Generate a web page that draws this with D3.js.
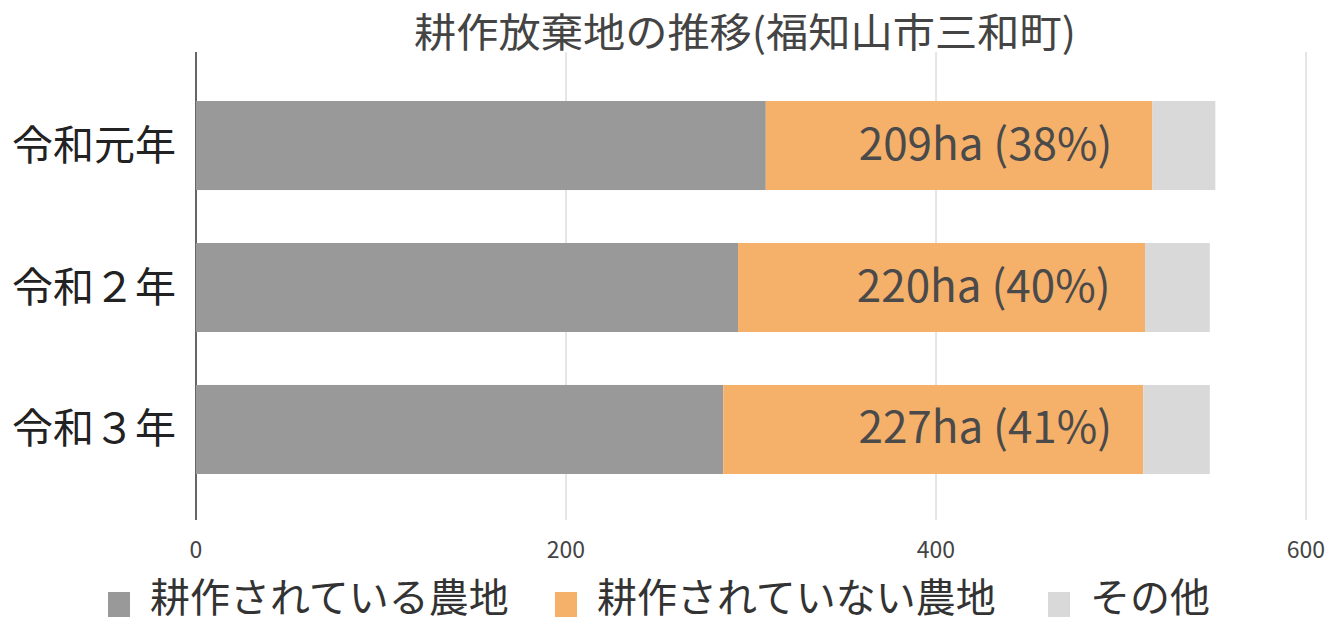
<!DOCTYPE html>
<html lang="ja">
<head>
    <meta charset="UTF-8">
    <script src="https://cdnjs.cloudflare.com/ajax/libs/d3/7.8.5/d3.min.js"></script>
    <style>
        body { margin: 0; background: #fff; }
        text { font-family: "Noto Sans CJK JP", "Noto Sans", sans-serif; }
    </style>
</head>
<body>
<svg id="chart" width="1336" height="624"></svg>
<script>
    const years = ['令和元年', '令和２年', '令和３年'];
    const cultivated = [308, 293, 285];
    const abandoned = [209, 220, 227];
    const other = [34, 35, 36];
    const seriesNames = ['耕作されている農地', '耕作されていない農地', 'その他'];
    const colors = ['#999999', '#f5b06a', '#d9d9d9'];
    const ticks = [0, 200, 400, 600];

    const svg = d3.select('#chart');
    const x = d3.scaleLinear().domain([0, 600]).range([196, 1306]);
    const y = d3.scaleBand().domain(years).range([101, 474]).paddingInner(0.373).paddingOuter(0);

    const rows = years.map((yr, i) => ({year: yr, vals: [cultivated[i], abandoned[i], other[i]]}));

    // grid
    svg.append('g').selectAll('line')
        .data(ticks).enter().append('line')
        .attr('x1', d => x(d)).attr('x2', d => x(d))
        .attr('y1', 52).attr('y2', 520)
        .attr('stroke', d => d === 0 ? '#333' : '#cccccc')
        .attr('stroke-width', d => d === 0 ? 1.5 : 1);

    svg.append('g').selectAll('text')
        .data(ticks).enter().append('text')
        .attr('x', d => x(d)).attr('y', 558)
        .attr('text-anchor', 'middle')
        .style('font-size', '23px').style('fill', '#444')
        .text(d => d);

    // stacked bars
    rows.forEach(r => {
        let acc = 0;
        r.vals.forEach((v, j) => {
            svg.append('rect')
                .attr('x', x(acc)).attr('y', y(r.year))
                .attr('width', x(acc + v) - x(acc))
                .attr('height', y.bandwidth())
                .attr('fill', colors[j]);
            acc += v;
        });
        const total = d3.sum(r.vals);
        const pct = Math.round(r.vals[1] / total * 100);
        svg.append('text')
            .attr('x', x(r.vals[0] + r.vals[1]) - 40 + (r.vals[1] - 209) * 0.5)
            .attr('y', y(r.year) + y.bandwidth() / 2 + 14)
            .attr('text-anchor', 'end')
            .style('font-size', '44px').style('fill', '#4a4a4a')
            .text(`${r.vals[1]}ha (${pct}%)`);
    });

    // category labels
    svg.append('g').selectAll('text')
        .data(years).enter().append('text')
        .attr('x', 176).attr('y', d => y(d) + y.bandwidth() / 2 + 14)
        .attr('text-anchor', 'end')
        .style('font-size', '41px').style('fill', '#222')
        .text(d => d);

    // title
    svg.append('text')
        .attr('x', 745).attr('y', 47)
        .attr('text-anchor', 'middle')
        .attr('textLength', 662).attr('lengthAdjust', 'spacingAndGlyphs')
        .style('font-size', '40px').style('fill', '#444')
        .text('耕作放棄地の推移(福知山市三和町)');

    // legend
    const legendX = [108, 555, 1048];
    const lg = svg.append('g').selectAll('g')
        .data(seriesNames).enter().append('g')
        .attr('transform', (d, i) => `translate(${legendX[i]},592)`);
    lg.append('rect').attr('width', 22).attr('height', 25).attr('fill', (d, i) => colors[i]);
    lg.append('text').attr('x', 42).attr('y', 20)
        .style('font-size', '40px').style('fill', '#333')
        .text(d => d);
</script>
</body>
</html>
